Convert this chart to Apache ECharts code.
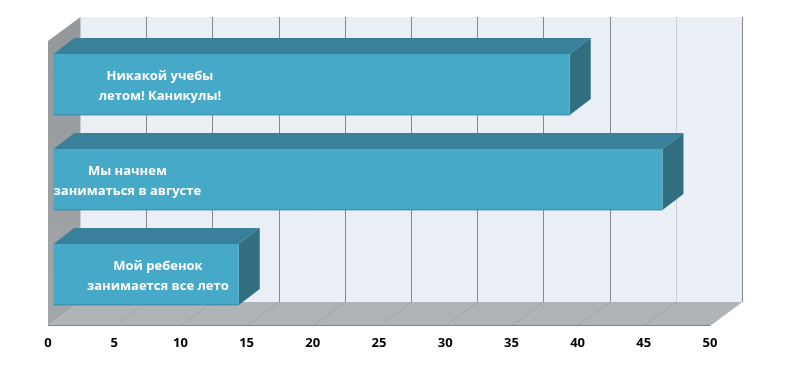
<!DOCTYPE html>
<html>
<head>
<meta charset="utf-8">
<style>html,body{margin:0;padding:0;background:#fff}#c{width:800px;height:381px}</style>
<script src="https://cdn.jsdelivr.net/npm/echarts@6/dist/echarts.min.js"></script>
</head>
<body>
<div id="c"></div>
<script>
const categories = ["Никакой учебы\nлетом! Каникулы!", "Мы начнем\nзаниматься в августе", "Мой ребенок\nзанимается все лето"];
const values = [39, 46, 14];
const ticks = [0, 5, 10, 15, 20, 25, 30, 35, 40, 45, 50];

// styling of the simulated 3D box
const wallDepth = [32.5, -24];
const barGap = [5.4, -4];
const barDepth = [21, -16];
const labelShift = [106.5, 74, 104.5];
const labelDrop = 2;
const fontFamily = '"Open Sans", sans-serif';

function poly(points, fill, z2) {
  return { type: 'polygon', z2: z2 || 0, shape: { points: points }, style: { fill: fill, stroke: null } };
}
function line(a, b, stroke, w, z2) {
  return { type: 'line', z2: z2 || 1, shape: { x1: a[0], y1: a[1], x2: b[0], y2: b[1] }, style: { stroke: stroke, lineWidth: w } };
}

function renderBox(params, api) {
  const cs = params.coordSys;
  const L = cs.x, R = cs.x + cs.width, T = cs.y, B = cs.y + cs.height;
  const dx = wallDepth[0], dy = wallDepth[1];
  const kids = [];
  kids.push(poly([[L + dx, T + dy], [R + dx, T + dy], [R + dx, B + dy], [L + dx, B + dy]], '#e9eff5'));
  kids.push(poly([[L, T], [L + dx, T + dy], [L + dx, B + dy], [L, B]],
    { type: 'linear', x: 0, y: 0, x2: 0, y2: 1, colorStops: [{ offset: 0, color: '#94979b' }, { offset: 1, color: '#a4a7a9' }] }));
  kids.push(poly([[L, B], [L + dx, B + dy], [R + dx, B + dy], [R, B]], '#b0b4b6'));
  ticks.forEach(function (t) {
    const x = api.coord([t, 0])[0];
    if (t > 0 && t < 50) {
      const bx = Math.floor(x + dx) + 0.5;
      kids.push(line([bx, T + dy], [bx, B + dy], t === 45 ? '#c8cfd6' : '#85898d', 1));
      kids.push(line([x, B], [x + dx, B + dy], '#8f9395', 0.5));
    }
  });
  const rx = Math.floor(R + dx) + 0.5;
  kids.push(line([rx, T + dy], [rx, B + dy], '#85898d', 1));
  kids.push(line([L, B - 0.5], [R, B - 0.5], '#808487', 1, 2));
  return { type: 'group', children: kids };
}

function renderBar(params, api) {
  const i = api.value(1);
  const v = api.value(0);
  const p0 = api.coord([0, i]);
  const p1 = api.coord([v, i]);
  const h = api.size([0, 1])[1] * 0.64;
  const x0 = p0[0] + barGap[0], x1 = p1[0] + barGap[0];
  const y0 = p0[1] + barGap[1] - h / 2, y1 = y0 + h;
  const dx = barDepth[0], dy = barDepth[1];
  return {
    type: 'group',
    children: [
      poly([[x0, y0], [x0 + dx, y0 + dy], [x1 + dx, y0 + dy], [x1, y0]], '#39809a'),
      poly([[x1, y0], [x1 + dx, y0 + dy], [x1 + dx, y1 + dy], [x1, y1]], '#316e80'),
      poly([[x0, y0], [x1, y0], [x1, y1], [x0, y1]], '#47a9c8'),
      line([x0, y1], [x1, y1], '#3a8aa5', 1),
      {
        type: 'text', z2: 5,
        style: {
          x: x0 + labelShift[i], y: (y0 + y1) / 2 + labelDrop,
          text: categories[i], fill: '#fff', align: 'center', verticalAlign: 'middle',
          font: 'bold 13px ' + fontFamily, lineHeight: 20
        }
      }
    ]
  };
}

const chart = echarts.init(document.getElementById('c'), null, { renderer: 'canvas' });
chart.setOption({
  animation: false,
  backgroundColor: '#fff',
  grid: { left: 48, right: 90, top: 41, bottom: 55 },
  xAxis: {
    type: 'value', min: 0, max: 50, interval: 5,
    axisLine: { show: false }, axisTick: { show: false }, splitLine: { show: false },
    axisLabel: { color: '#000', fontWeight: 'bold', fontSize: 13, fontFamily: fontFamily, margin: 11 }
  },
  yAxis: { type: 'category', inverse: true, data: categories, show: false },
  series: [
    { type: 'custom', name: 'box', z: 1, clip: false, silent: true, renderItem: renderBox, data: [[0, 0]], encode: { x: 0, y: 1 } },
    { type: 'custom', name: 'bars', z: 2, clip: false, renderItem: renderBar, data: values.map(function (v, i) { return [v, i]; }), encode: { x: 0, y: 1 } }
  ]
});
</script>
</body>
</html>
